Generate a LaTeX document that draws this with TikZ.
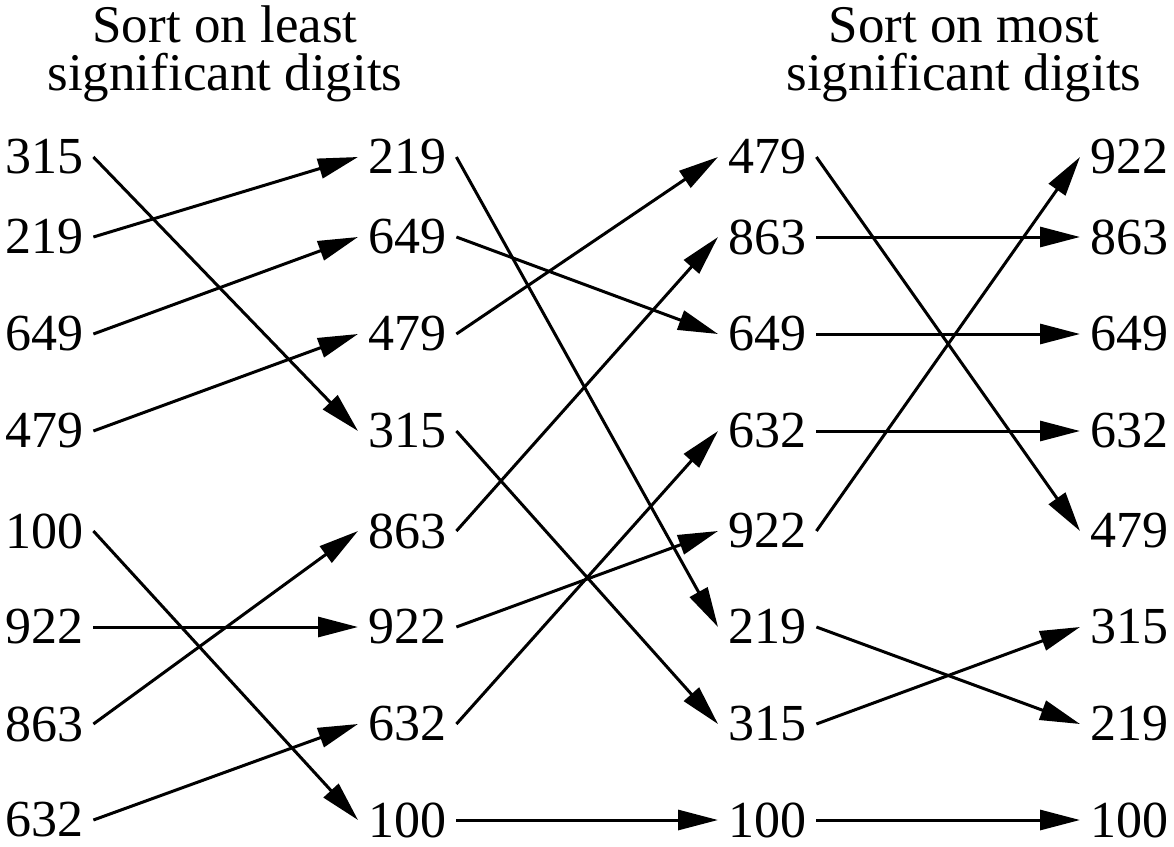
\documentclass[tikz,border=0pt]{standalone}
\usepackage{fontspec}
\setmainfont{Liberation Serif}
\usetikzlibrary{arrows.meta}
\begin{document}
\begin{tikzpicture}[x=1pt,y=-1pt,
  num/.style={font=\fontsize{52}{60}\selectfont, inner xsep=10pt, inner ysep=0pt, anchor=west},
  hdr/.style={font=\fontsize{53}{60}\selectfont, inner sep=0pt, anchor=base},
  arr/.style={-{Triangle[length=40pt,width=20pt]}, line width=3pt}]
\useasboundingbox (0,0) rectangle (1174,846);
% headers
\node[hdr] (h1a) at (225,42) {Sort on least};
\node[hdr] (h1b) at (225,90) {significant digits};
\node[hdr] (h2a) at (964,42) {Sort on most};
\node[hdr] (h2b) at (964,90) {significant digits};
% column 1
\node[num] (a1) at (-5,157) {315};
\node[num] (a2) at (-5,237) {219};
\node[num] (a3) at (-5,334) {649};
\node[num] (a4) at (-5,431) {479};
\node[num] (a5) at (-5,531) {100};
\node[num] (a6) at (-5,627) {922};
\node[num] (a7) at (-5,724) {863};
\node[num] (a8) at (-5,820) {632};
% column 2
\node[num] (b1) at (358,157) {219};
\node[num] (b2) at (358,237) {649};
\node[num] (b3) at (358,334) {479};
\node[num] (b4) at (358,431) {315};
\node[num] (b5) at (358,531) {863};
\node[num] (b6) at (358,627) {922};
\node[num] (b7) at (358,724) {632};
\node[num] (b8) at (358,820) {100};
% column 3
\node[num] (c1) at (718,157) {479};
\node[num] (c2) at (718,237) {863};
\node[num] (c3) at (718,334) {649};
\node[num] (c4) at (718,431) {632};
\node[num] (c5) at (718,531) {922};
\node[num] (c6) at (718,627) {219};
\node[num] (c7) at (718,724) {315};
\node[num] (c8) at (718,820) {100};
% column 4
\node[num] (d1) at (1080,157) {922};
\node[num] (d2) at (1080,237) {863};
\node[num] (d3) at (1080,334) {649};
\node[num] (d4) at (1080,431) {632};
\node[num] (d5) at (1080,531) {479};
\node[num] (d6) at (1080,627) {315};
\node[num] (d7) at (1080,724) {219};
\node[num] (d8) at (1080,820) {100};
% arrows col1 -> col2
\draw[arr] (a1.east) -- (b4.west);
\draw[arr] (a2.east) -- (b1.west);
\draw[arr] (a3.east) -- (b2.west);
\draw[arr] (a4.east) -- (b3.west);
\draw[arr] (a5.east) -- (b8.west);
\draw[arr] (a6.east) -- (b6.west);
\draw[arr] (a7.east) -- (b5.west);
\draw[arr] (a8.east) -- (b7.west);
% arrows col2 -> col3
\draw[arr] (b1.east) -- (c6.west);
\draw[arr] (b2.east) -- (c3.west);
\draw[arr] (b3.east) -- (c1.west);
\draw[arr] (b4.east) -- (c7.west);
\draw[arr] (b5.east) -- (c2.west);
\draw[arr] (b6.east) -- (c5.west);
\draw[arr] (b7.east) -- (c4.west);
\draw[arr] (b8.east) -- (c8.west);
% arrows col3 -> col4
\draw[arr] (c1.east) -- (d5.west);
\draw[arr] (c2.east) -- (d2.west);
\draw[arr] (c3.east) -- (d3.west);
\draw[arr] (c4.east) -- (d4.west);
\draw[arr] (c5.east) -- (d1.west);
\draw[arr] (c6.east) -- (d7.west);
\draw[arr] (c7.east) -- (d6.west);
\draw[arr] (c8.east) -- (d8.west);
\end{tikzpicture}
\end{document}
